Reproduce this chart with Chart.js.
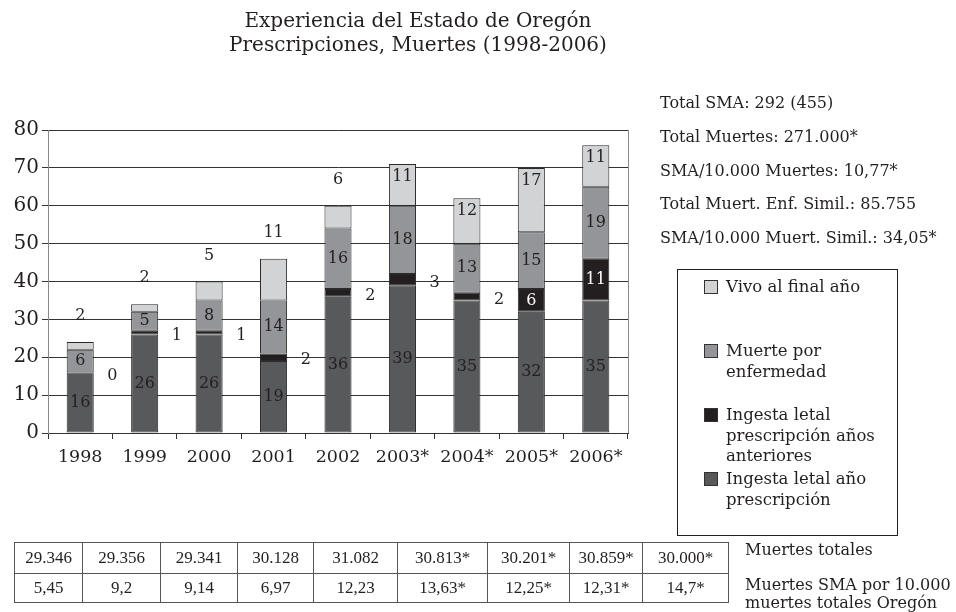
<!DOCTYPE html>
<html>
<head>
<meta charset="utf-8">
<script src="https://cdn.jsdelivr.net/npm/chart.js@4"></script>
<style>
  body { margin: 0; background: #fff; }
  #wrap { position: relative; width: 956px; height: 612px; overflow: hidden; font-family: 'DejaVu Serif', serif; color: #231f20; }
  #c { position: absolute; left: 0; top: 0; }
  #titulo { position: absolute; left: 218px; width: 400px; top: 8px; text-align: center; font-size: 20px; line-height: 24px; }
  #resumen { position: absolute; left: 660px; top: 86px; font-size: 16px; line-height: 33.75px; white-space: nowrap; }
  #tabla { position: absolute; left: 14px; top: 542px; border-collapse: collapse; font-family: 'Liberation Serif', serif; font-size: 17px; }
  #tabla td { border: 1px solid #555; text-align: center; padding: 0; }
  #tabla tr:first-child td { height: 30px; }
  #tabla tr:last-child td { height: 28px; }
  #filas { position: absolute; left: 745px; top: 541px; font-size: 16px; white-space: nowrap; }
  #filas div { line-height: 18.5px; }
</style>
</head>
<body>
<div id="wrap">
  <canvas id="c" width="956" height="612"></canvas>
  <div id="titulo"></div>
  <div id="resumen"></div>
  <table id="tabla"></table>
  <div id="filas"></div>
</div>
<script>
const years = ['1998', '1999', '2000', '2001', '2002', '2003*', '2004*', '2005*', '2006*'];
const ingestaAnio = [16, 26, 26, 19, 36, 39, 35, 32, 35];
const ingestaAnteriores = [0, 1, 1, 2, 2, 3, 2, 6, 11];
const muerteEnfermedad = [6, 5, 8, 14, 16, 18, 13, 15, 19];
const vivoFinal = [2, 2, 5, 11, 6, 11, 12, 17, 11];

const muertesTotales = ['29.346', '29.356', '29.341', '30.128', '31.082', '30.813*', '30.201*', '30.859*', '30.000*'];
const smaPor10000 = ['5,45', '9,2', '9,14', '6,97', '12,23', '13,63*', '12,25*', '12,31*', '14,7*'];

const tituloLineas = ['Experiencia del Estado de Oregón', 'Prescripciones, Muertes (1998-2006)'];
const resumenLineas = [
    'Total SMA: 292 (455)',
    'Total Muertes: 271.000*',
    'SMA/10.000 Muertes: 10,77*',
    'Total Muert. Enf. Simil.: 85.755',
    'SMA/10.000 Muert. Simil.: 34,05*'
];
const filasNombres = ['Muertes totales', 'Muertes SMA por 10.000 muertes totales Oregón'];

// textos fuera del canvas
document.getElementById('titulo').innerHTML = tituloLineas.join('<br>');
document.getElementById('resumen').innerHTML = resumenLineas.join('<br>');

const colWidths = [68, 78, 77, 76, 84, 90, 82, 73, 86];
const tabla = document.getElementById('tabla');
[muertesTotales, smaPor10000].forEach(fila => {
    const tr = document.createElement('tr');
    fila.forEach((v, i) => {
        const td = document.createElement('td');
        td.textContent = v;
        td.style.width = (colWidths[i] - 1) + 'px';
        tr.appendChild(td);
    });
    tabla.appendChild(tr);
});
document.getElementById('filas').innerHTML =
    '<div style="margin-bottom:16px">' + filasNombres[0] + '</div>' +
    '<div style="width:206px;white-space:normal">' + filasNombres[1] + '</div>';

const FONT = "'DejaVu Serif', serif";
const TXT = '#231f20';

// etiquetas de cada segmento
const segLabels = {
    id: 'segLabels',
    afterDatasetsDraw(chart) {
        const ctx = chart.ctx;
        const half = chart.scales.x.width / years.length / 2;
        ctx.save();
        ctx.font = '16px ' + FONT;
        ctx.textAlign = 'center';
        ctx.textBaseline = 'middle';
        chart.data.datasets.forEach((ds, di) => {
            const meta = chart.getDatasetMeta(di);
            meta.data.forEach((bar, i) => {
                const v = ds.data[i];
                let x = bar.x;
                let y = (bar.y + bar.base) / 2;
                let color = TXT;
                if (di === 1) {
                    if (v >= 5) color = '#fff';
                    else { x = bar.x + half; y += 3; }
                }
                if (di === 3) {
                    y = years[i].includes('*') ? bar.y + 13 : bar.y - 26;
                }
                ctx.fillStyle = color;
                ctx.fillText(String(v), x, y);
            });
        });
        ctx.restore();
    }
};

// borde derecho del área de trazado
const rightBorder = {
    id: 'rightBorder',
    afterDraw(chart) {
        const { ctx, chartArea } = chart;
        ctx.save();
        ctx.strokeStyle = '#888';
        ctx.lineWidth = 1;
        ctx.beginPath();
        ctx.moveTo(Math.round(chartArea.right) + 0.5, chartArea.top);
        ctx.lineTo(Math.round(chartArea.right) + 0.5, chartArea.bottom);
        ctx.stroke();
        ctx.restore();
    }
};

// leyenda en caja, orden inverso
const boxLegend = {
    id: 'boxLegend',
    afterDraw(chart) {
        const ctx = chart.ctx;
        const box = { l: 677, t: 269, r: 897, b: 535 };
        ctx.save();
        ctx.strokeStyle = '#231f20';
        ctx.lineWidth = 1;
        ctx.strokeRect(box.l + 0.5, box.t + 0.5, box.r - box.l, box.b - box.t);
        ctx.font = '16.5px ' + FONT;
        ctx.textBaseline = 'middle';
        ctx.textAlign = 'left';
        const items = chart.data.datasets.slice().reverse();
        items.forEach((ds, k) => {
            const top = 280 + k * 64;
            ctx.fillStyle = ds.backgroundColor;
            ctx.fillRect(704, top, 14, 14);
            ctx.strokeStyle = '#333';
            ctx.strokeRect(704.5, top + 0.5, 13, 13);
            // partir texto en líneas
            const words = ds.label.split(' ');
            const lines = [];
            let cur = '';
            words.forEach(w => {
                const t = cur ? cur + ' ' + w : w;
                if (ctx.measureText(t).width > 166 && cur) { lines.push(cur); cur = w; }
                else cur = t;
            });
            lines.push(cur);
            ctx.fillStyle = TXT;
            lines.forEach((ln, j) => ctx.fillText(ln, 726, top + 8 + j * 20.5));
        });
        ctx.restore();
    }
};

const ctx = document.getElementById('c').getContext('2d');
new Chart(ctx, {
    type: 'bar',
    data: {
        labels: years,
        datasets: [
            { label: 'Ingesta letal año prescripción', data: ingestaAnio, backgroundColor: '#58595b' },
            { label: 'Ingesta letal prescripción años anteriores', data: ingestaAnteriores, backgroundColor: '#231f20' },
            { label: 'Muerte por enfermedad', data: muerteEnfermedad, backgroundColor: '#939598' },
            { label: 'Vivo al final año', data: vivoFinal, backgroundColor: '#d1d3d4' }
        ].map(d => Object.assign(d, {
            borderColor: '#2a2a2a',
            borderWidth: 1,
            borderSkipped: false,
            barPercentage: 0.42,
            categoryPercentage: 1
        }))
    },
    options: {
        responsive: false,
        animation: false,
        devicePixelRatio: 1,
        layout: { padding: { left: 0, top: 130, right: 328, bottom: 139 } },
        plugins: {
            legend: { display: false },
            tooltip: { enabled: false }
        },
        scales: {
            x: {
                stacked: true,
                afterFit: s => { s.height = 40; },
                grid: { drawOnChartArea: false, tickLength: 6, color: '#333' },
                border: { color: '#333' },
                ticks: { color: TXT, font: { family: FONT, size: 17.5 }, padding: 8, maxRotation: 0 }
            },
            y: {
                stacked: true,
                min: 0,
                max: 80,
                afterFit: s => { s.width = 48; },
                ticks: { stepSize: 10, color: TXT, font: { family: FONT, size: 20 }, padding: 3 },
                grid: { color: '#333', tickLength: 6 },
                border: { color: '#888' }
            }
        }
    },
    plugins: [segLabels, rightBorder, boxLegend]
});
</script>
</body>
</html>
